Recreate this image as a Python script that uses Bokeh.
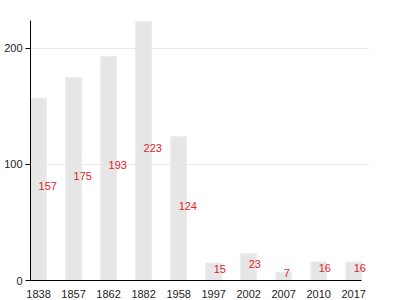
from bokeh.plotting import figure
from bokeh.models import ColumnDataSource, Range1d, FixedTicker, LabelSet
from bokeh.core.properties import value
from bokeh.embed import file_html
from bokeh.resources import INLINE

years = ["1838", "1857", "1862", "1882", "1958", "1997", "2002", "2007", "2010", "2017"]
counts = [157, 175, 193, 223, 124, 15, 23, 7, 16, 16]
y_ticks = [0, 100, 200]

idx = list(range(len(years)))
src = ColumnDataSource(dict(
    x=idx, top=counts, half=[c / 2 for c in counts], label=[str(c) for c in counts]))

pad = 0.23
p = figure(width=400, height=300, output_backend="svg", toolbar_location=None,
           x_range=Range1d(-pad, len(years) - 1 + 0.45), y_range=Range1d(0, 224),
           min_border_left=30, min_border_right=31, min_border_top=20, min_border_bottom=20)
p.outline_line_color = None
p.background_fill_color = "white"
p.border_fill_color = "white"

p.vbar(x="x", top="top", width=0.45, bottom=0, source=src,
       fill_color="#e6e6e6", line_color="#ececec", line_width=1)
labels = LabelSet(x="x", y="half", text="label", source=src, text_align="left",
                  text_baseline="middle", y_offset=3, text_color="#e0242b",
                  text_font=value("Liberation Sans"), text_font_size="11px")
p.add_layout(labels)

p.xgrid.grid_line_color = None
p.ygrid.grid_line_color = "#ebebeb"
p.ygrid.ticker = FixedTicker(ticks=[100, 200])

p.xaxis.ticker = FixedTicker(ticks=idx)
p.xaxis.bounds = (-pad, len(years) - 1 + pad)
p.xaxis.major_label_overrides = {i: y for i, y in zip(idx, years)}
p.xaxis.major_tick_line_color = None
p.xaxis.minor_tick_line_color = None
p.xaxis.major_label_standoff = 3
p.yaxis.ticker = FixedTicker(ticks=y_ticks)
p.yaxis.major_tick_out = 5
p.yaxis.major_tick_in = 0
p.yaxis.minor_tick_line_color = None
p.yaxis.major_label_standoff = 3
for ax in (p.xaxis, p.yaxis):
    ax.axis_line_color = "black"
    ax.axis_line_width = 1
    ax.major_label_text_font = "Liberation Sans"
    ax.major_label_text_font_size = "11px"
    ax.major_label_text_color = "#222222"

open("out.html", "w").write(file_html(p, INLINE))
